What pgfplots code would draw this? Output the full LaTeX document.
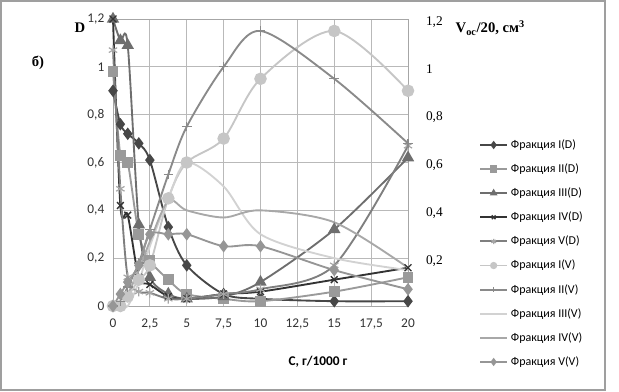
\documentclass[border=0pt]{standalone}
\usepackage{fontspec}
\setmainfont{Carlito}
\newfontfamily\serifcyr{Liberation Serif}
\usepackage{pgfplots}
\pgfplotsset{compat=1.18}
\definecolor{cID}{HTML}{474747}
\definecolor{cIID}{HTML}{9A9A9A}
\definecolor{cIIID}{HTML}{6E6E6E}
\definecolor{cIVD}{HTML}{333333}
\definecolor{cVD}{HTML}{7F7F7F}
\definecolor{cIV}{HTML}{C6C6C6}
\definecolor{cIIV}{HTML}{8A8A8A}
\definecolor{cIIIV}{HTML}{D2D2D2}
\definecolor{cIVV}{HTML}{A8A8A8}
\definecolor{cVV}{HTML}{969696}
\begin{document}
\begin{tikzpicture}[x=0.75pt,y=0.75pt]
\useasboundingbox (0,0) rectangle (619,392);
\draw[color=gray!75, line width=0.9pt] (1,2) rectangle (605,391);
\begin{axis}[
  at={(84.75pt,64.5pt)}, anchor=south west,
  scale only axis, width=221.25pt, height=215.25pt,
  xmin=0, xmax=20, ymin=0, ymax=1.2,
  clip=false,
  xtick={0,2.5,5,7.5,10,12.5,15,17.5,20},
  ytick={0,0.2,0.4,0.6,0.8,1,1.2},
  /pgf/number format/.cd, use comma, fixed, assume math mode=true,
  /pgfplots/.cd,
  grid=major,
  major grid style={draw=gray!55, line width=0.6pt},
  axis line style={draw=gray!70, line width=0.6pt},
  tick style={draw=none},
  ticklabel style={font=\fontsize{10}{12}\selectfont, text=black!80},
  xticklabel style={yshift=-6pt},
  yticklabel style={xshift=-3pt},
  every axis plot/.append style={line width=1.4pt, smooth, tension=0.5},
  legend style={at={(axis description cs:1.240,0.59)}, anchor=north west,
    draw=none, fill=none, font=\fontsize{9}{11}\selectfont, row sep=6pt,
    inner sep=0pt},
  legend cell align=left,
  legend image code/.code={\draw[mark repeat=2,mark phase=2,#1,mark size=2pt,line width=1.4pt] plot coordinates {(0cm,0cm) (0.36cm,0cm) (0.72cm,0cm)};},
]
% D series
\addplot[color=cID, mark=diamond*, mark size=3.6pt] coordinates {
 (0,0.90) (0.5,0.76) (1,0.72) (1.75,0.68) (2.5,0.61) (3.75,0.33) (5,0.17) (7.5,0.05) (10,0.03) (15,0.02) (20,0.02)};
\addlegendentry{Фракция I(D)}
\addplot[color=cIID, mark=square*, mark size=3.4pt] coordinates {
 (0,0.98) (0.5,0.63) (1,0.60) (1.75,0.30) (2.5,0.19) (3.75,0.11) (5,0.05) (7.5,0.03) (10,0.02) (15,0.06) (20,0.12)};
\addlegendentry{Фракция II(D)}
\addplot[color=cIIID, mark=triangle*, mark size=4pt] coordinates {
 (0,1.20) (0.5,1.11) (1,1.09) (1.75,0.34) (2.5,0.12) (3.75,0.05) (5,0.03) (7.5,0.04) (10,0.10) (15,0.32) (20,0.62)};
\addlegendentry{Фракция III(D)}
\addplot[color=cIVD, mark=x, mark size=3.6pt, mark options={line width=1pt}] coordinates {
 (0,1.20) (0.5,0.42) (1,0.38) (1.75,0.12) (2.5,0.09) (3.75,0.04) (5,0.03) (7.5,0.05) (10,0.06) (15,0.11) (20,0.16)};
\addlegendentry{Фракция IV(D)}
\addplot[color=cVD, mark=asterisk, mark size=3.6pt, mark options={color=gray!70, line width=0.9pt}] coordinates {
 (0,1.07) (0.5,0.49) (1,0.12) (1.75,0.06) (2.5,0.055) (3.75,0.03) (5,0.03) (7.5,0.05) (10,0.07) (15,0.17) (20,0.67)};
\addlegendentry{Фракция V(D)}
% V series
\addplot[color=cIV, mark=*, mark size=4pt] coordinates {
 (0,0) (0.5,0) (1,0.04) (1.75,0.11) (2.5,0.17) (3.75,0.45) (5,0.60) (7.5,0.70) (10,0.95) (15,1.15) (20,0.90)};
\addlegendentry{Фракция I(V)}
\addplot[color=cIIV, mark=+, mark size=3.6pt, mark options={line width=1pt}] coordinates {
 (0,0) (0.5,0.02) (1,0.08) (1.75,0.18) (2.5,0.32) (3.75,0.55) (5,0.75) (7.5,1.00) (10,1.15) (15,0.95) (20,0.68)};
\addlegendentry{Фракция II(V)}
\addplot[color=cIIIV, mark=none] coordinates {
 (0,0) (0.5,0) (1,0) (1.75,0.10) (2.5,0.25) (3.75,0.45) (5,0.60) (7.5,0.50) (10,0.30) (15,0.20) (20,0.15)};
\addlegendentry{Фракция III(V)}
\addplot[color=cIVV, mark=none] coordinates {
 (0,0) (0.5,0) (1,0.05) (1.75,0.15) (2.5,0.27) (3.75,0.44) (5,0.40) (7.5,0.37) (10,0.40) (15,0.35) (20,0.16)};
\addlegendentry{Фракция IV(V)}
\addplot[color=cVV, mark=diamond*, mark size=3.6pt] coordinates {
 (0,0) (0.5,0.05) (1,0.10) (1.75,0.17) (2.5,0.30) (3.75,0.30) (5,0.30) (7.5,0.25) (10,0.25) (15,0.15) (20,0.07)};
\addlegendentry{Фракция V(V)}
\end{axis}
\begin{axis}[
  at={(84.75pt,64.5pt)}, anchor=south west,
  scale only axis, width=221.25pt, height=215.25pt,
  xmin=0, xmax=20, ymin=0, ymax=1.2,
  axis x line=none, axis y line*=right,
  y axis line style={draw=none},
  ytick={0.2,0.4,0.6,0.8,1,1.2},
  /pgf/number format/.cd, use comma, fixed, assume math mode=true,
  /pgfplots/.cd,
  tick style={draw=none},
  yticklabel style={font=\serifcyr\fontsize{10}{12}\selectfont, anchor=west, xshift=10pt, yshift=-2pt},
]
\end{axis}
\node[font=\serifcyr\bfseries\fontsize{11}{13}\selectfont] at (80,364) {D};
\node[font=\serifcyr\bfseries\fontsize{11}{13}\selectfont] at (38,329) {б)};
\node[font=\serifcyr\bfseries\fontsize{11}{13}\selectfont, anchor=west] at (451,364) {V\textsubscript{ос}/20, см\textsuperscript{3}};
\node[font=\bfseries\fontsize{10}{12}\selectfont] at (318,30) {C, г/1000 г};
\end{tikzpicture}
\end{document}
